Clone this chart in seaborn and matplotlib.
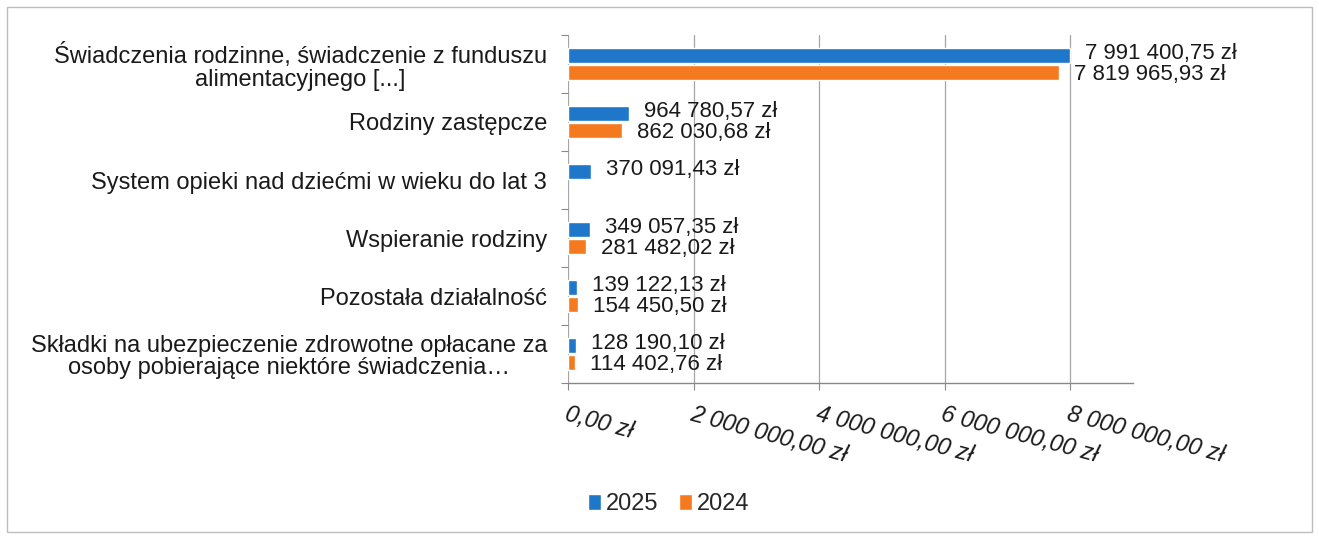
import numpy as np
import pandas as pd
import matplotlib
matplotlib.use("Agg")
import matplotlib.pyplot as plt
import seaborn as sns
from matplotlib.patches import Rectangle, Patch

categories = [
    "Świadczenia rodzinne, świadczenie z funduszu\nalimentacyjnego [...]",
    "Rodziny zastępcze",
    "System opieki nad dziećmi w wieku do lat 3",
    "Wspieranie rodziny",
    "Pozostała działalność",
    "Składki na ubezpieczenie zdrowotne opłacane za\nosoby pobierające niektóre świadczenia…",
]
values_2025 = [7991400.75, 964780.57, 370091.43, 349057.35, 139122.13, 128190.10]
values_2024 = [7819965.93, 862030.68, np.nan, 281482.02, 154450.50, 114402.76]
series_names = ["2025", "2024"]
x_ticks = [0, 2000000, 4000000, 6000000, 8000000]

colors = ["#1F77C9", "#F57A1F"]

df = pd.DataFrame({
    "kategoria": categories * 2,
    "wartosc": values_2025 + values_2024,
    "rok": [series_names[0]] * len(categories) + [series_names[1]] * len(categories),
})

sns.set_theme(style="white")
plt.rcParams["font.family"] = ["Liberation Sans", "DejaVu Sans"]

fig = plt.figure(figsize=(13.19, 5.38), dpi=100)
ax = fig.add_axes([0.4306, 0.288, 0.4284, 0.647])

sns.barplot(data=df, y="kategoria", x="wartosc", hue="rok", orient="h",
            order=categories, hue_order=series_names, palette=colors,
            width=0.59, gap=0.12, errorbar=None, ax=ax, saturation=1)


def fmt(v):
    s = f"{v:,.2f}".replace(",", " ").replace(".", ",")
    return s + " zł"


shifts = [1.3, -1.3]
for i, c in enumerate(ax.containers):
    labs = [fmt(v) if np.isfinite(v) else "" for v in c.datavalues]
    anns = ax.bar_label(c, labels=labs, padding=11, fontsize=16, color="#1a1a1a")
    for a in anns:
        a.xyann = (11, shifts[i])

ax.set_xlim(0, 9000000)
ax.set_ylim(5.5, -0.5)
ax.set_xticks(x_ticks)
ax.set_xticklabels([fmt(v) for v in x_ticks], rotation=-15, ha="left",
                   va="top", rotation_mode="anchor", fontstyle="italic",
                   fontsize=17, color="#1a1a1a")
ax.tick_params(axis="x", which="major", direction="out", length=5, width=0.8,
               color="#888888", pad=9, bottom=True)
ax.set_yticks(range(len(categories)))
ax.set_yticklabels(categories, fontsize=17, color="#1a1a1a",
                   multialignment="center", linespacing=1.05)
ax.tick_params(axis="y", which="major", length=0, pad=15)
ax.set_yticks(np.arange(-0.5, len(categories)), minor=True)
ax.tick_params(axis="y", which="minor", left=True, direction="out", length=5,
               width=0.8, color="#888888")
ax.set_xlabel("")
ax.set_ylabel("")
ax.grid(axis="x", color="#A6A6A6", linewidth=0.9)
ax.set_axisbelow(True)
for s in ["top", "right", "left"]:
    ax.spines[s].set_visible(False)
ax.spines["bottom"].set_color("#888888")
ax.spines["bottom"].set_linewidth(1.0)

if ax.legend_ is not None:
    ax.legend_.remove()
handles = [Patch(facecolor=colors[i], label=series_names[i]) for i in range(2)]
fig.legend(handles=handles, loc="center", bbox_to_anchor=(0.507, 0.063), ncol=2,
           frameon=False, fontsize=17, handlelength=0.55, handleheight=0.65,
           handletextpad=0.2, columnspacing=0.9)

fig.patches.append(Rectangle((0.005, 0.012), 0.99, 0.975, transform=fig.transFigure,
                             fill=False, edgecolor="#BDBDBD", linewidth=1.0))

fig.savefig("out.png", dpi=100, facecolor="white")
